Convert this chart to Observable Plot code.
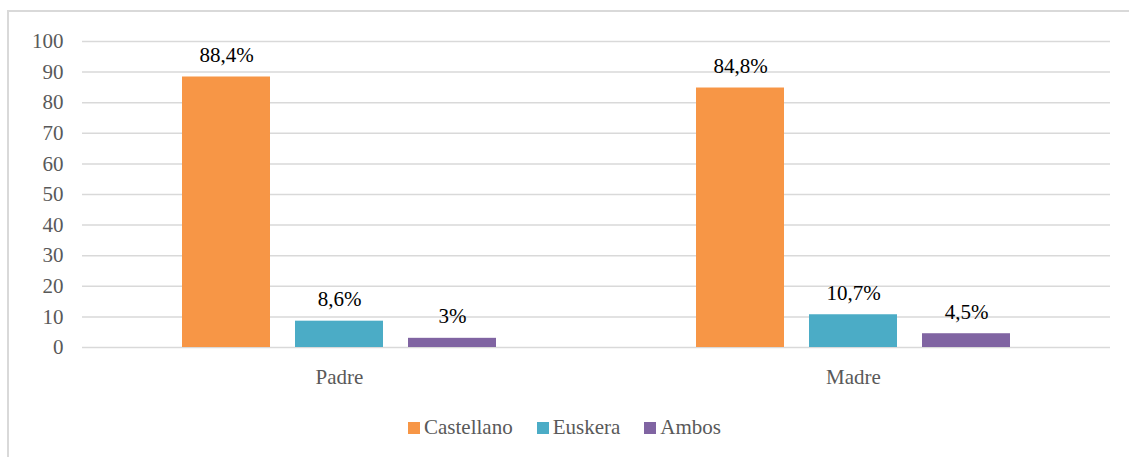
<!DOCTYPE html>
<html>
<head>
<meta charset="utf-8">
<script src="https://cdn.jsdelivr.net/npm/d3@7"></script>
<script src="https://cdn.jsdelivr.net/npm/@observablehq/plot@0.6"></script>
<style>
  html, body { margin: 0; padding: 0; background: #fff; width: 1129px; height: 457px; overflow: hidden; font-family: 'Times New Roman', 'Liberation Serif', serif; }
  #frame { position: absolute; left: 7px; top: 10px; width: 1140px; height: 470px; border: 2px solid #d9d9d9; box-sizing: border-box; }
  #chart { position: absolute; left: 0; top: 0; }
  #legend { position: absolute; left: 0; width: 1129px; top: 415px; text-align: center; font-size: 21px; color: #595959; font-family: 'Times New Roman', 'Liberation Serif', serif; }
  #legend span.item { display: inline-block; margin: 0 12px; }
  #legend span.sw { display: inline-block; width: 12px; height: 12px; margin-right: 4px; vertical-align: 0px; }
</style>
</head>
<body>
<div id="frame"></div>
<div id="chart"></div>
<div id="legend"></div>
<script>
const groups = ["Padre", "Madre"];
const series = ["Castellano", "Euskera", "Ambos"];
const colors = ["#F79646", "#4BACC6", "#8064A2"];
const padreValues = [88.4, 8.6, 3];
const madreValues = [84.8, 10.7, 4.5];
const yTicks = [0, 10, 20, 30, 40, 50, 60, 70, 80, 90, 100];

const data = [];
[padreValues, madreValues].forEach((vals, gi) => {
  vals.forEach((v, si) => data.push({group: groups[gi], serie: series[si], value: v}));
});
const fmt = v => String(v).replace(".", ",") + "%";
const FONT = "'Times New Roman', 'Liberation Serif', serif";

const plot = Plot.plot({
  width: 1129,
  height: 400,
  marginLeft: 81,
  marginRight: 19,
  marginTop: 41,
  marginBottom: 53,
  style: { fontFamily: FONT, fontSize: "21px", color: "#595959", background: "transparent" },
  fx: { domain: groups, padding: 0, label: null, axis: "bottom", tickSize: 0, tickPadding: 22 },
  x: { domain: series, paddingInner: 0.22, paddingOuter: 0.866, axis: null },
  y: { domain: [0, 100], ticks: yTicks, label: null, tickSize: 0, tickPadding: 19 },
  color: { domain: series, range: colors },
  marks: [
    Plot.ruleY(yTicks, { stroke: "#d9d9d9", strokeWidth: 1.5, strokeOpacity: 1 }),
    Plot.barY(data, { fx: "group", x: "serie", y: "value", fill: "serie" }),
    Plot.text(data, { fx: "group", x: "serie", y: "value", text: d => fmt(d.value), lineAnchor: "bottom", dy: -15, fill: "#000", fontSize: 21, fontFamily: FONT })
  ]
});
document.getElementById("chart").appendChild(plot);

const legend = document.getElementById("legend");
series.forEach((s, i) => {
  const item = document.createElement("span");
  item.className = "item";
  item.innerHTML = `<span class="sw" style="background:${colors[i]}"></span>${s}`;
  legend.appendChild(item);
});
</script>
</body>
</html>
